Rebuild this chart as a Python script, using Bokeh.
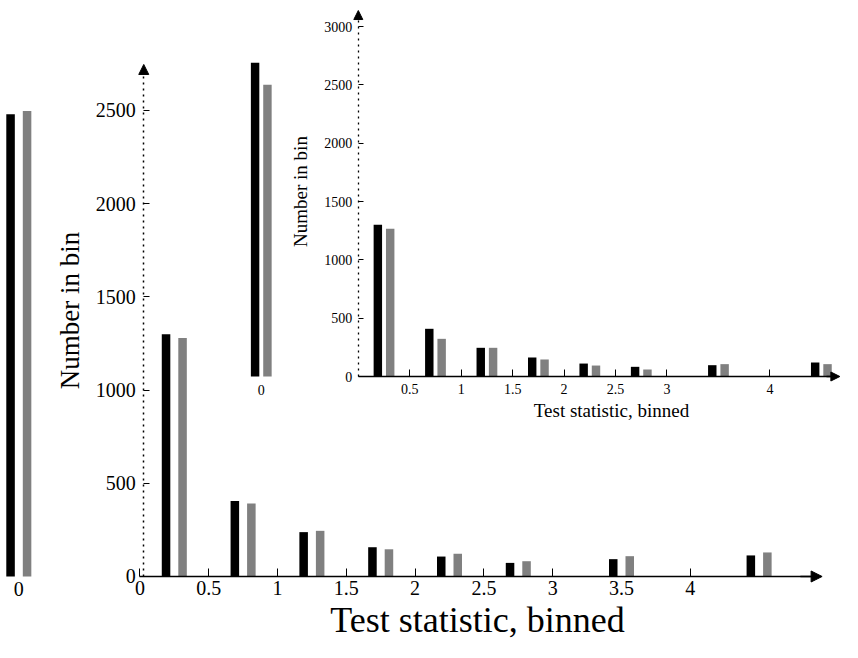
from math import pi
from bokeh.plotting import figure
from bokeh.models import Range1d, LinearAxis, FixedTicker, Arrow, NormalHead
from bokeh.core.properties import value
from bokeh.embed import file_html
from bokeh.resources import INLINE

# ---------------- data ----------------
bins = [0.25, 0.75, 1.25, 1.75, 2.25, 2.75, 3.5, 4.5]
main_black = [1300, 405, 238, 157, 107, 73, 93, 113]
main_gray = [1279, 391, 245, 146, 122, 82, 109, 129]
main_zero_black = 2480
main_zero_gray = 2497

inset_black = [1301, 409, 246, 163, 111, 83, 97, 120]
inset_gray = [1266, 323, 246, 146, 94, 60, 106, 106]
inset_zero_black = 2690
inset_zero_gray = 2501

main_xticks = [0, 0.5, 1, 1.5, 2, 2.5, 3, 4]
main_xticks_extra = [3.5]
main_yticks = [0, 500, 1000, 1500, 2000, 2500]
inset_xticks = [0.5, 1, 1.5, 2, 2.5, 3, 4]
inset_yticks = [0, 500, 1000, 1500, 2000, 2500, 3000]

zero_main_pos = -0.88
zero_inset_pos = -0.943
off = 0.06

FONT = "Liberation Serif"
BLACK = "#000000"
GRAY = "#808080"

p = figure(width=842, height=642,
           x_range=Range1d(-1.01308, 5.10610), y_range=Range1d(-354.1, 3090.1),
           x_axis_type=None, y_axis_type=None, min_border=0,
           toolbar_location=None, output_backend="svg",
           outline_line_color=None)
p.extra_x_ranges = {"ix": Range1d(-3.47716, 4.70554)}
p.extra_y_ranges = {"iy": Range1d(-2280.7, 3223.9)}

# ---------------- main bars ----------------
mx_b = [b - off for b in bins] + [zero_main_pos - off]
mx_g = [b + off for b in bins] + [zero_main_pos + off]
p.vbar(x=mx_b, top=main_black + [main_zero_black], width=0.062, bottom=0,
       fill_color=BLACK, line_color=None)
p.vbar(x=mx_g, top=main_gray + [main_zero_gray], width=0.062, bottom=0,
       fill_color=GRAY, line_color=None)

# ---------------- inset bars ----------------
ix_b = [b - off for b in bins] + [zero_inset_pos - off]
ix_g = [b + off for b in bins] + [zero_inset_pos + off]
p.vbar(x=ix_b, top=inset_black + [inset_zero_black], width=0.082, bottom=0,
       fill_color=BLACK, line_color=None, x_range_name="ix", y_range_name="iy")
p.vbar(x=ix_g, top=inset_gray + [inset_zero_gray], width=0.082, bottom=0,
       fill_color=GRAY, line_color=None, x_range_name="ix", y_range_name="iy")


def style(ax, size, tick_in, standoff):
    ax.major_label_text_font = FONT
    ax.major_label_text_font_size = size
    ax.major_label_text_color = "black"
    ax.major_tick_in = tick_in
    ax.major_tick_out = 0
    ax.minor_tick_line_color = None
    ax.major_label_standoff = standoff
    ax.axis_line_color = "black"
    ax.major_tick_line_color = "black"


def head(size):
    return NormalHead(size=size, fill_color="black", line_color="black")


# ---------------- main axes ----------------
m_y = LinearAxis(fixed_location=0.028, bounds=(0, 2700),
                 ticker=FixedTicker(ticks=main_yticks))
style(m_y, "20px", 6, 8)
m_y.axis_line_dash = "2 4"
m_y.axis_line_width = 1.5
p.add_layout(m_y, "left")

m_x = LinearAxis(fixed_location=0, bounds=(0, 4.9),
                 ticker=FixedTicker(ticks=main_xticks))
style(m_x, "20px", 8, 5)
m_x.axis_line_width = 1.5
p.add_layout(m_x, "below")

m_x2 = LinearAxis(fixed_location=0, ticker=FixedTicker(ticks=main_xticks_extra))
style(m_x2, "20px", 0, 5)
m_x2.axis_line_color = None
m_x2.major_tick_line_color = None
p.add_layout(m_x2, "below")

p.add_layout(Arrow(end=head(11), x_start=4.8, y_start=0, x_end=4.958, y_end=0,
                   line_color="black", line_width=1.5))
p.add_layout(Arrow(end=head(10), x_start=0.028, y_start=2690, x_end=0.028,
                   y_end=2747, line_color=None))

# ---------------- inset axes ----------------
i_y = LinearAxis(fixed_location=0, bounds=(0, 3080), x_range_name="ix",
                 y_range_name="iy", ticker=FixedTicker(ticks=inset_yticks))
style(i_y, "14px", 5, 6)
i_y.axis_line_dash = "2 4"
i_y.axis_line_width = 1.3
p.add_layout(i_y, "left")

i_x = LinearAxis(fixed_location=0, bounds=(0, 4.6), x_range_name="ix",
                 y_range_name="iy", ticker=FixedTicker(ticks=inset_xticks))
style(i_x, "14px", 7, 7)
i_x.axis_line_width = 1.3
p.add_layout(i_x, "below")

p.add_layout(Arrow(end=head(9), x_start=4.55, y_start=0, x_end=4.68, y_end=0,
                   line_color="black", line_width=1.3,
                   x_range_name="ix", y_range_name="iy"))
p.add_layout(Arrow(end=head(9), x_start=0, y_start=3070, x_end=0, y_end=3138,
                   line_color=None, x_range_name="ix", y_range_name="iy"))

# ---------------- texts ----------------
p.text(x=[zero_main_pos], y=[-32.2], text=["0"], text_font=value(FONT),
       text_font_size="20px", text_align="center", text_baseline="top",
       text_color="black")
p.text(x=[zero_inset_pos], y=[-68.6], text=["0"], text_font=value(FONT),
       text_font_size="14px", text_align="center", text_baseline="top",
       text_color="black", x_range_name="ix", y_range_name="iy")

p.text(x=[-0.5044], y=[1427], text=["Number in bin"], angle=pi / 2,
       text_font=value(FONT), text_font_size="27px", text_align="center",
       text_baseline="middle", text_color="black")
p.text(x=[2.4535], y=[-340], text=["Test statistic, binned"],
       text_font=value(FONT), text_font_size="36px", text_align="center",
       text_baseline="bottom", text_color="black")

p.text(x=[-0.5617], y=[1586], text=["Number in bin"], angle=pi / 2,
       text_font=value(FONT), text_font_size="19px", text_align="center",
       text_baseline="middle", text_color="black",
       x_range_name="ix", y_range_name="iy")
p.text(x=[2.4606], y=[-291.5], text=["Test statistic, binned"],
       text_font=value(FONT), text_font_size="19px", text_align="center",
       text_baseline="middle", text_color="black",
       x_range_name="ix", y_range_name="iy")

open("out.html", "w").write(file_html(p, INLINE))
